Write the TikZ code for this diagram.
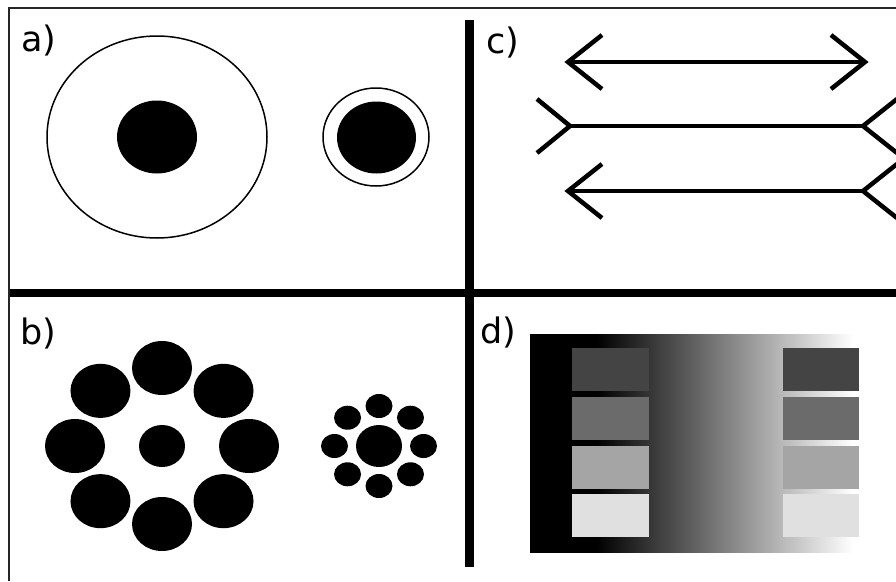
\documentclass[tikz,border=0pt]{standalone}
\usepackage{fontspec}
\setmainfont{DejaVu Sans}
\pgfdeclarehorizontalshading{dgrad}{100bp}{color(0bp)=(black); color(35.2bp)=(black); color(75bp)=(white); color(100bp)=(white)}
\begin{document}
\begin{tikzpicture}[x=1pt,y=-1pt,
  frameline/.style={draw=black!85,line width=1.8pt},
  divider/.style={draw=black,line width=8.5pt},
  ringline/.style={draw=black,line width=1.5pt},
  illarrow/.style={draw=black,line width=4.5pt,line cap=butt,line join=miter},
  panellabel/.style={anchor=base west,inner sep=0pt,font=\fontsize{35}{35}\selectfont},
  dot/.style={fill=black}]
\useasboundingbox (0,0) rectangle (896,581);
\clip (0,0) rectangle (896,581);
\fill[white] (0,0) rectangle (896,581);

% frame and dividers
\draw[frameline] (8,8) -- (896,8);
\draw[frameline] (9,8) -- (9,581);
\draw[divider] (10,293) -- (896,293);
\draw[divider] (469.5,20) -- (469.5,567);

% labels
\node[panellabel] (la) at (21,51) {a)};
\node[panellabel] (lb) at (20,344) {b)};
\node[panellabel] (lc) at (486,53) {c)};
\node[panellabel] (ld) at (480,343) {d)};

% panel a
\draw[ringline] (157,137) ellipse [x radius=110pt, y radius=101pt];
\fill (157,137) ellipse [x radius=40pt, y radius=36.5pt];
\draw[ringline] (376,137) ellipse [x radius=53pt, y radius=49pt];
\fill (376.5,137.5) ellipse [x radius=39.5pt, y radius=36pt];

% panel c
\coordinate (a1l) at (568,62);
\coordinate (a1r) at (865,62);
\coordinate (a2l) at (570,126);
\coordinate (a2r) at (863,126);
\coordinate (a3l) at (568,191);
\coordinate (a3r) at (863,191);
\draw[illarrow] (a1l) -- (a1r);
\draw[illarrow] ([shift={(34,-27)}]a1l) -- (a1l) -- ([shift={(34,27)}]a1l);
\draw[illarrow] ([shift={(-34,-27)}]a1r) -- (a1r) -- ([shift={(-34,27)}]a1r);
\draw[illarrow] (a2l) -- (a2r);
\draw[illarrow] ([shift={(-33,-27)}]a2l) -- (a2l) -- ([shift={(-33,27)}]a2l);
\draw[illarrow] ([shift={(34,-27)}]a2r) -- (a2r) -- ([shift={(34,27)}]a2r);
\draw[illarrow] (a3l) -- (a3r);
\draw[illarrow] ([shift={(34,-27)}]a3l) -- (a3l) -- ([shift={(34,27)}]a3l);
\draw[illarrow] ([shift={(34,-27)}]a3r) -- (a3r) -- ([shift={(34,27)}]a3r);

% panel b
\foreach \a in {0,45,...,315}
  \fill ({162+87*cos(\a)},{446+78*sin(\a)}) ellipse [x radius=30pt, y radius=27pt];
\fill (162,446) ellipse [x radius=23pt, y radius=21pt];
\foreach \a in {0,45,...,315}
  \fill ({379+44.5*cos(\a)},{446+40*sin(\a)}) ellipse [x radius=13.5pt, y radius=12pt];
\fill (379,446) ellipse [x radius=23pt, y radius=21pt];

% panel d
\shade[shading=dgrad] (530,334) rectangle (853,552);
\definecolor{gA}{HTML}{444444}
\definecolor{gB}{HTML}{6B6B6B}
\definecolor{gC}{HTML}{A5A5A5}
\definecolor{gD}{HTML}{E0E0E0}
\foreach \y/\c in {348/gA,397/gB,446/gC,494/gD}{
  \fill[\c] (572,\y) rectangle (649,\y+42.5);
  \fill[\c] (783,\y) rectangle (859,\y+42.5);
}
\end{tikzpicture}
\end{document}
